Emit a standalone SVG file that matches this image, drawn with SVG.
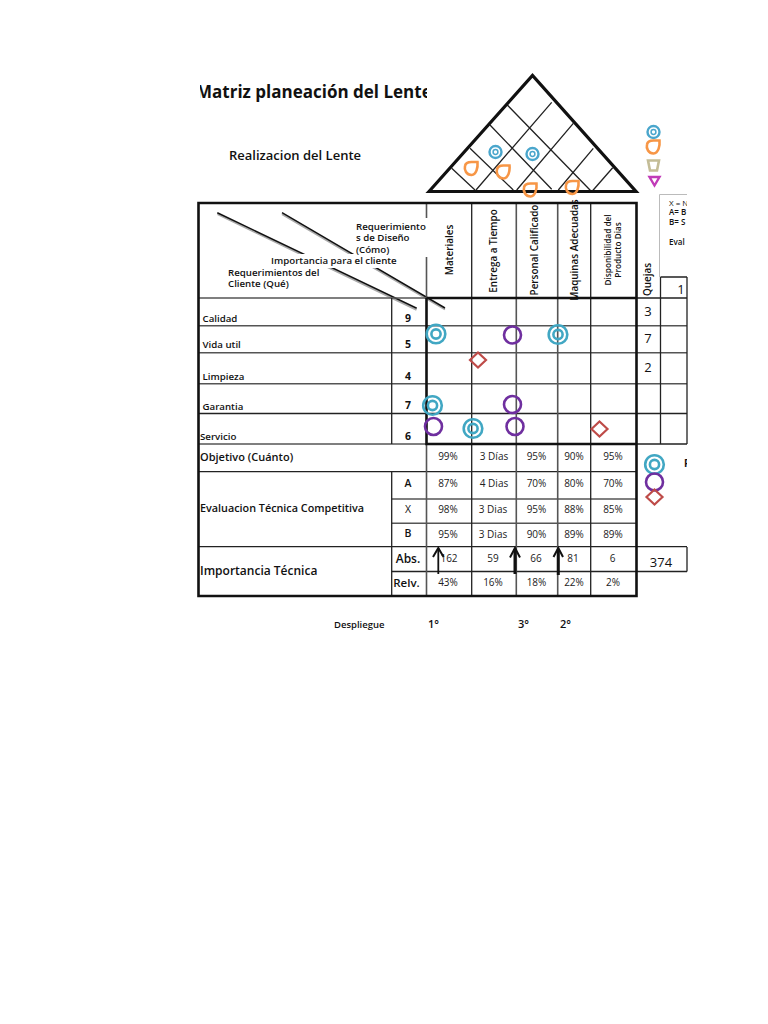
<svg xmlns="http://www.w3.org/2000/svg" width="768" height="1024" viewBox="0 0 768 1024">
<style>
text{font-family:"Open Sans","Noto Sans","DejaVu Sans",sans-serif;fill:#111}
.b{font-weight:700}
.s{font-weight:600}
.l{font-size:9.700px;font-weight:600}
.v{font-size:10px;text-anchor:middle;fill:#222}
.n{font-size:10.5px;font-weight:700;text-anchor:middle}
.h{font-size:9.900px;font-weight:600;text-anchor:middle}
.d{font-size:8.200px;font-weight:600;text-anchor:middle}
.m{font-size:13px;text-anchor:middle}
.thin{stroke:#222;stroke-width:1.3;fill:none}
.gray{stroke:#555;stroke-width:1.6;fill:none}
.thick{stroke:#111;stroke-width:2.6;fill:none}
.roof{stroke:#111;stroke-width:3.2;fill:none}
.tc{fill:none;stroke:#41a7c3;stroke-width:2.6}
.pc{fill:none;stroke:#6f2f9f;stroke-width:2.6}
.dm{fill:none;stroke:#be4b48;stroke-width:2.2}
.pl{fill:none;stroke:#4aa6cc;stroke-width:2.4}
.or{fill:none;stroke:#f79646;stroke-width:2.6}
</style>
<defs>
<clipPath id="t"><rect x="200" y="70" width="227" height="40"/></clipPath>
<clipPath id="k"><rect x="660" y="190" width="27" height="300"/></clipPath>
<g id="tcm"><circle r="9.3" class="tc"/><circle r="4.6" class="tc"/></g>
<g id="plm"><circle r="6" class="pl"/><circle r="2.4" fill="none" stroke="#4aa6cc" stroke-width="1.5"/></g>
<path id="orm" class="or" d="M-6.500-2.500C-6-5.500-3-6.500 0-6.500H6C6.500-1 5 6 0 6.500C-5 6.500-7.500 1.500-6.500-2.500Z"/>
<path id="dmm" class="dm" d="M0-7.500L8 0L0 7.500L-8 0Z"/>
</defs>

<g id="title"><text class="b" x="196" y="98" font-size="17" clip-path="url(#t)">Matriz planeación del Lente</text>
<text class="s" x="229" y="160" font-size="13">Realizacion del Lente</text></g>

<g id="roof">
<path class="thin" d="M507.300 105L591.700 191.700M490 125L551.700 189.300M470 148.300L513.300 190M451.700 168.300L475 190M551.700 102.300L476 190M573.300 123.300L516.700 190M593.300 148.300L558.300 190M612.700 167.700L591.700 191.700"/>
<path class="roof" d="M429 191.500L532.500 75.500L636 191.500Z"/>
</g>

<g id="connectors">
<path fill="none" stroke="#aaa" stroke-width="2" d="M217.500 214.200L416.500 309.800M282 214.200L445 309.500"/>
<path fill="none" stroke="#111" stroke-width="1.500" d="M217.300 212.700L416.700 308.300M282 212.700L445 308"/>
<rect x="270" y="254" width="132" height="14" fill="#fff"/>
<rect x="356" y="218" width="72" height="39" fill="#fff"/>
</g>

<g id="grid">
<path class="gray" d="M199 298H636M199 325.700H687M199 352.700H687M199 383.700H687M199 444H427M391.700 499H636M391.700 523.300H636"/>
<path class="thin" d="M199 413.500H687M199 471.700H636M199 546.700H687M391.700 571.500H636M636 298H687M636 444H687M636 571.500H687"/>
<path class="thin" d="M391.700 298V444M391.700 471.700V596M471.700 203V596M590.700 203V596M660.500 277V444M687 277V444M660.500 277H687M687 547V571.500"/>
<path class="gray" d="M426.500 203V218M426.500 257V298M426.500 444V596M516.300 203V596M557.700 203V596"/>
<path class="thick" d="M198.500 203H636.500V596H198.500ZM426.500 298V444H636.500M426.500 298H636.500"/>
<path fill="none" stroke="#bbb" stroke-width="1" d="M659.500 277V194.500H687"/>
</g>

<g id="headers">
<text class="l" x="356" y="230">Requerimiento</text><text class="l" x="356" y="241">s de Diseño</text><text class="l" x="356" y="252.500">(Cómo)</text>
<text class="l" x="271" y="263.500">Importancia para el cliente</text>
<text class="l" x="228" y="275.500">Requerimientos del</text><text class="l" x="228" y="286.500">Cliente (Qué)</text>
<text class="h" transform="translate(452.500,250) rotate(-90)">Materiales</text>
<text class="h" transform="translate(497,251) rotate(-90)">Entrega a Tiempo</text>
<text class="h" transform="translate(537.500,250) rotate(-90)">Personal Calificado</text>
<text class="h" transform="translate(577.500,250) rotate(-90)">Maquinas Adecuadas</text>
<text class="d" transform="translate(611,250) rotate(-90)">Disponibilidad del</text>
<text class="d" transform="translate(621,250) rotate(-90)">Producto Dias</text>
<text class="h" transform="translate(651,279.500) rotate(-90)">Quejas</text>
</g>

<g id="rows">
<text class="l" x="202.500" y="321.500">Calidad</text><text class="n" x="408" y="322">9</text>
<text class="l" x="202.500" y="348">Vida util</text><text class="n" x="408" y="348">5</text>
<text class="l" x="202.500" y="380">Limpieza</text><text class="n" x="408" y="380">4</text>
<text class="l" x="202.500" y="409.500">Garantia</text><text class="n" x="408" y="409">7</text>
<text class="l" x="200" y="440">Servicio</text><text class="n" x="408" y="440">6</text>
<text class="s" x="200" y="460.500" font-size="11">Objetivo (Cuánto)</text>
<text class="s" x="200" y="512" font-size="10.800">Evaluacion Técnica Competitiva</text>
<text class="s" x="200" y="574.500" font-size="12">Importancia Técnica</text>
<text x="408" y="487" font-size="10.500" font-weight="600" text-anchor="middle">A</text><text x="408" y="513" font-size="10.500" text-anchor="middle">X</text><text x="408" y="537" font-size="10.500" font-weight="600" text-anchor="middle">B</text>
<text class="s" x="408" y="562.500" font-size="12" text-anchor="middle">Abs.</text><text class="s" x="406.500" y="587" font-size="11.500" text-anchor="middle">Relv.</text>
<text class="m" x="648" y="315.500">3</text><text class="m" x="648" y="343">7</text><text class="m" x="648" y="371.500">2</text><text class="m" x="681" y="293.500">1</text>
<text class="m" x="661" y="566.500">374</text>
</g>

<g id="values">
<text class="v" x="448" y="459.500">99%</text><text class="v" x="494" y="459.500">3 Días</text><text class="v" x="536.500" y="459.500">95%</text><text class="v" x="574" y="459.500">90%</text><text class="v" x="613" y="459.500">95%</text>
<text class="v" x="448" y="487">87%</text><text class="v" x="494" y="487">4 Dias</text><text class="v" x="536.500" y="487">70%</text><text class="v" x="574" y="487">80%</text><text class="v" x="613" y="487">70%</text>
<text class="v" x="448" y="513">98%</text><text class="v" x="493" y="513">3 Dias</text><text class="v" x="536.500" y="513">95%</text><text class="v" x="574" y="513">88%</text><text class="v" x="613" y="513">85%</text>
<text class="v" x="448" y="538">95%</text><text class="v" x="493" y="538">3 Dias</text><text class="v" x="536.500" y="538">90%</text><text class="v" x="574" y="538">89%</text><text class="v" x="613" y="538">89%</text>
<text class="v" x="449" y="561.500">162</text><text class="v" x="493" y="561.500">59</text><text class="v" x="536" y="561.500">66</text><text class="v" x="573" y="561.500">81</text><text class="v" x="612.500" y="561.500">6</text>
<text class="v" x="448" y="586">43%</text><text class="v" x="493" y="586">16%</text><text class="v" x="536.500" y="586">18%</text><text class="v" x="574" y="586">22%</text><text class="v" x="613" y="586">2%</text>
</g>

<g id="symbols">
<use href="#tcm" x="436" y="334"/><use href="#tcm" x="558" y="334.500"/><use href="#tcm" x="432.500" y="405.500"/><use href="#tcm" x="473" y="428.500"/>
<circle class="pc" cx="512.500" cy="335" r="8.500"/><circle class="pc" cx="512.500" cy="404.500" r="8.500"/><circle class="pc" cx="433.500" cy="426.500" r="8.500"/><circle class="pc" cx="515" cy="426.500" r="8.500"/>
<use href="#dmm" x="478" y="360"/><use href="#dmm" x="599.500" y="429"/>
<use href="#plm" x="495.500" y="152"/><use href="#plm" x="532.500" y="154"/>
<use href="#orm" x="471.500" y="168.500"/><use href="#orm" x="503.500" y="172"/><use href="#orm" x="530.500" y="190"/><use href="#orm" x="572.500" y="187.500"/>
</g>

<g id="arrows" fill="none" stroke="#111">
<path stroke-width="1.800" d="M438.300 574V548"/><path stroke-width="2" d="M433 557L438.300 548L443.600 557"/>
<path stroke-width="3" d="M515 574V549"/><path stroke-width="2" d="M510 557.500L515 548L520 557.500"/>
<path stroke-width="3" d="M558.300 575V549"/><path stroke-width="2" d="M553.500 557L558.300 548L563 557"/>
</g>

<g id="legend">
<use href="#plm" x="653.500" y="132"/>
<use href="#orm" x="653.500" y="147"/>
<path fill="none" stroke="#c4bd97" stroke-width="2.600" d="M648 160.500H659L657 170.500H650Z"/>
<path fill="none" stroke="#c13bb8" stroke-width="2.400" d="M649.500 177H659.500L654.500 185.500Z"/>
<g clip-path="url(#k)" font-size="8">
<text x="669" y="205.500">X = N</text><text class="s" x="669" y="215">A= B</text><text class="s" x="669" y="225">B= S</text><text class="s" x="669" y="245">Eval</text>
<text class="b" x="684" y="467" font-size="10">F</text>
</g>
<use href="#tcm" x="654.500" y="464.500"/><circle class="pc" cx="654.500" cy="482" r="8.500"/><use href="#dmm" x="654.500" y="497"/>
</g>

<g id="footer">
<text class="s" x="334" y="628" font-size="9.500">Despliegue</text>
<text class="s" x="428" y="628" font-size="11">1°</text><text class="s" x="518" y="628" font-size="11">3°</text><text class="s" x="560" y="628" font-size="11">2°</text>
</g>
</svg>
